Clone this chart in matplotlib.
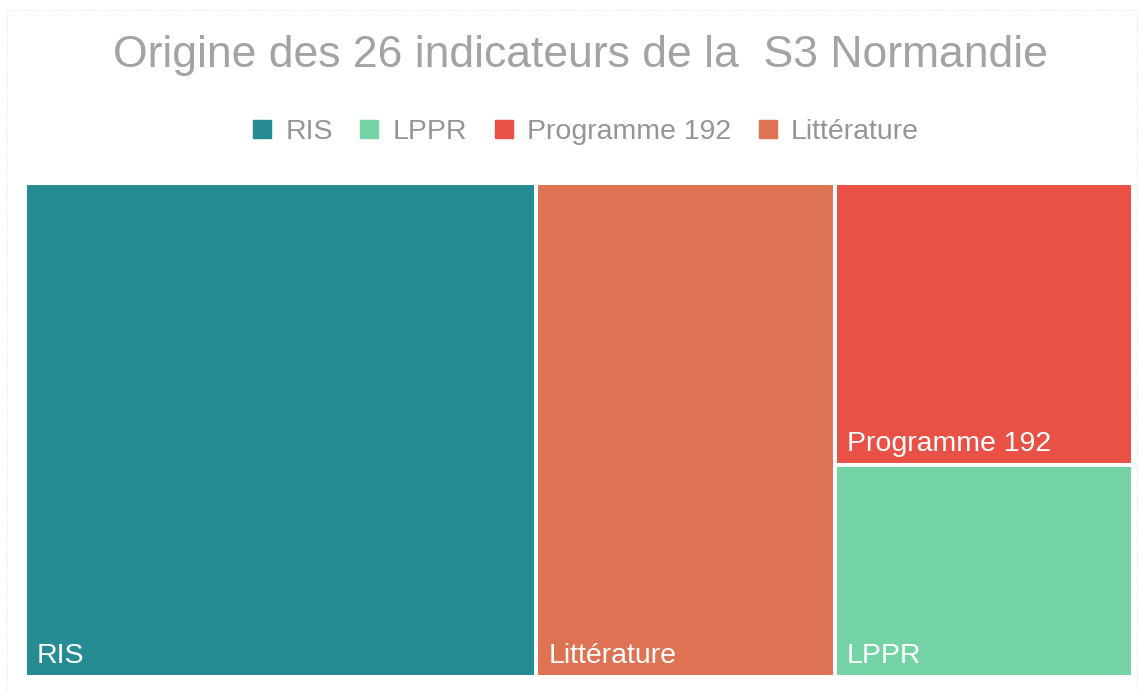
import matplotlib
matplotlib.use("Agg")
import matplotlib.pyplot as plt
from matplotlib.patches import Rectangle
from matplotlib.lines import Line2D

plt.rcParams['font.family'] = ['Liberation Sans', 'DejaVu Sans']

# data
categories = ['RIS', 'Littérature', 'Programme 192', 'LPPR']
counts = [12, 7, 4, 3]
colors = ['#268B92', '#DE7353', '#E95147', '#73D3A4']
legend_order = ['RIS', 'LPPR', 'Programme 192', 'Littérature']
title = 'Origine des 26 indicateurs de la  S3 Normandie'


def worst(row, side):
    s = sum(row)
    return max(max(side * side * r / (s * s), s * s / (side * side * r)) for r in row)


def squarify(areas, x, y, w, h):
    # simple squarified treemap, y grows downward
    rects = []
    areas = list(areas)
    while areas:
        side = min(w, h)
        row = [areas.pop(0)]
        while areas and worst(row + [areas[0]], side) <= worst(row, side):
            row.append(areas.pop(0))
        s = sum(row)
        if w >= h:
            rw = s / h
            yy = y
            for r in row:
                rects.append((x, yy, rw, r / rw))
                yy += r / rw
            x, w = x + rw, w - rw
        else:
            rh = s / w
            xx = x
            for r in row:
                rects.append((xx, y, r / rh, rh))
                xx += r / rh
            y, h = y + rh, h - rh
    return rects


W, H = 1104.0, 490.0
total = sum(counts)
areas = [c / total * W * H for c in counts]
rects = squarify(areas, 0, 0, W, H)

fig = plt.figure(figsize=(11.4, 6.9), dpi=100)
fig.patches.append(Rectangle((7 / 1140, -0.01), 1130 / 1140, 1 - 10 / 690 + 0.01,
                             transform=fig.transFigure, fill=False,
                             edgecolor='#E3E3E3', linewidth=0.8, linestyle=':'))

ax = fig.add_axes([23 / 1140, 11 / 690, 1112 / 1140, 498 / 690])
ax.set_xlim(-2, W + 2)
ax.set_ylim(H + 2, -2)
ax.axis('off')

for (x, y, w, h), name, col in zip(rects, categories, colors):
    ax.add_patch(Rectangle((x, y), w, h, facecolor=col, edgecolor='white', linewidth=2.9))
    ax.text(x + 12, y + h - 14, name, color='white', fontsize=20.5,
            ha='left', va='baseline')

fig.text(580.5 / 1140, 1 - 67 / 690, title, ha='center', va='baseline',
         fontsize=32, color='#A3A3A3')

handles = [Line2D([], [], linestyle='none', marker='s', markersize=13,
                  color=colors[categories.index(n)]) for n in legend_order]
fig.legend(handles, legend_order, loc='center', bbox_to_anchor=(586 / 1140, 1 - 132 / 690),
           ncol=4, frameon=False, fontsize=20.5, labelcolor='#959595',
           handlelength=0.65, handletextpad=0.5, columnspacing=0.95)

fig.savefig('out.png', dpi=100, facecolor='white')
